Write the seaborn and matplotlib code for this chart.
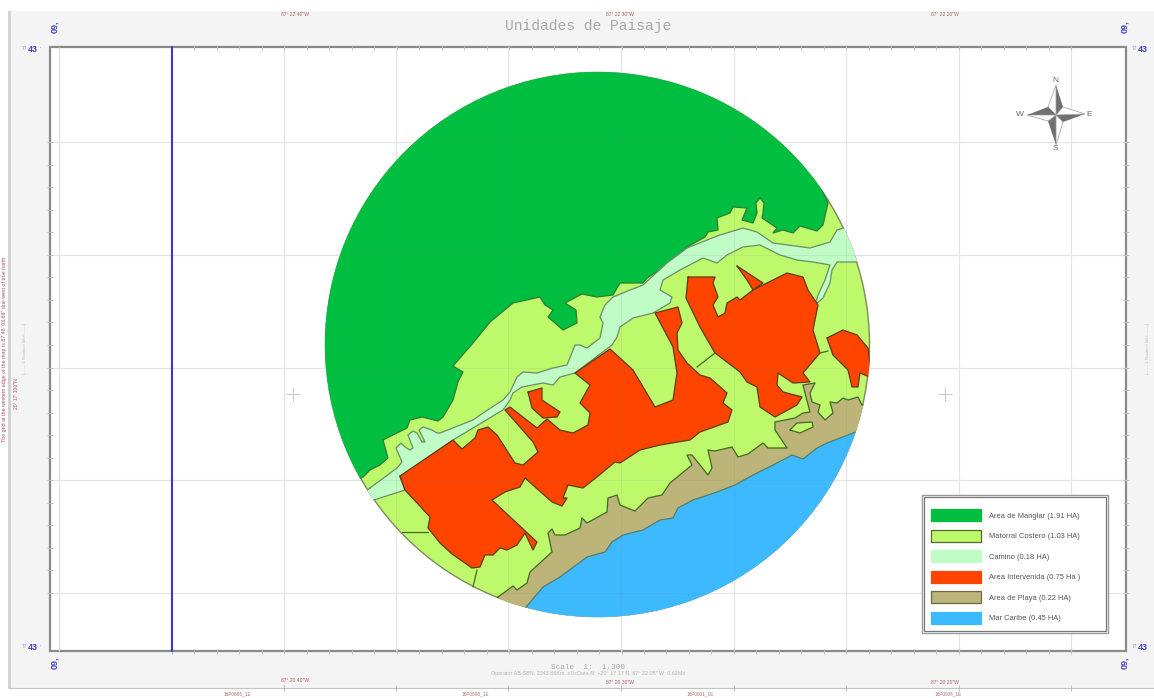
import numpy as np
import pandas as pd
import matplotlib.pyplot as plt
from matplotlib.patches import Circle, Patch, Rectangle
import seaborn as sns

# Map units are the pixel positions of the scanned sheet
grid_x = [284, 396, 508, 621, 734, 846, 959, 1071]
grid_y = [142, 255, 368, 480, 593]
blue_line_x = [172, 172]
blue_line_y = [47, 651]
cross_x = [293, 620, 945]
cross_y = [394, 394, 394]

study_center = (597.5, 344.5)
study_radius = 272

mangrove = [(250, 520), (363, 477), (370, 470), (380, 465), (388, 458), (383, 440), (393, 435), (407, 428),
            (410, 420), (422, 417), (438, 421), (443, 417), (453, 400), (458, 382), (463, 372), (453, 366),
            (473, 343), (490, 322), (513, 303), (540, 297), (545, 305), (553, 310), (548, 317), (563, 330),
            (577, 323), (576, 310), (565, 303), (582, 294), (597, 297), (613, 295), (620, 283), (643, 283),
            (647, 278), (667, 265), (687, 247), (705, 237), (708, 232), (718, 230), (717, 218), (730, 213),
            (733, 207), (747, 208), (742, 220), (753, 223), (757, 213), (756, 203), (760, 198), (764, 203),
            (763, 213), (762, 218), (777, 228), (773, 233), (783, 230), (793, 233), (800, 226), (817, 231),
            (823, 225), (827, 207), (828, 203), (822, 190), (900, 100), (900, 0), (250, 0)]

road = [(370, 488), (397, 468), (402, 462), (396, 448), (401, 443), (405, 447), (410, 450), (413, 448),
        (408, 435), (413, 431), (417, 433), (422, 442), (425, 442), (419, 430), (423, 427), (432, 430),
        (437, 433), (440, 433), (473, 420), (483, 413), (503, 400), (510, 392), (517, 377), (523, 372),
        (537, 373), (553, 368), (567, 365), (575, 345), (580, 345), (587, 348), (600, 338), (603, 323),
        (600, 317), (605, 305), (613, 297), (630, 290), (643, 285), (667, 263), (687, 248), (707, 240),
        (720, 235), (743, 228), (757, 232), (773, 243), (810, 248), (830, 242), (837, 230), (862, 222),
        (870, 262), (858, 262), (837, 262), (832, 270), (830, 283), (823, 298), (815, 305), (818, 295),
        (825, 280), (830, 265), (813, 262), (797, 260), (780, 255), (760, 245), (743, 247), (727, 255),
        (717, 263), (703, 258), (680, 270), (663, 280), (660, 290), (672, 297), (670, 303), (653, 313),
        (633, 318), (620, 327), (617, 337), (612, 345), (575, 373), (560, 377), (553, 385), (543, 383),
        (522, 387), (513, 393), (510, 400), (503, 410), (453, 440), (400, 477), (405, 490), (377, 499),
        (340, 510)]

red_main = [(400, 476), (453, 440), (462, 449), (475, 438), (478, 430), (488, 427), (497, 435), (515, 463),
            (523, 465), (538, 452), (533, 442), (505, 410), (510, 407), (537, 428), (547, 419), (560, 430),
            (573, 433), (588, 425), (590, 413), (580, 403), (590, 385), (575, 373), (610, 349), (620, 358),
            (633, 370), (655, 407), (673, 400), (677, 373), (673, 347), (655, 313), (678, 307), (682, 323),
            (677, 333), (678, 350), (687, 363), (700, 375), (710, 378), (727, 393), (723, 403), (732, 410),
            (728, 422), (700, 432), (690, 440), (660, 445), (640, 450), (620, 463), (615, 462), (597, 477),
            (583, 488), (568, 485), (563, 498), (567, 498), (562, 506), (552, 502), (525, 478), (520, 487),
            (505, 492), (492, 500), (537, 542), (533, 550), (525, 533), (517, 545), (507, 550), (500, 548),
            (493, 555), (485, 555), (480, 567), (472, 568), (452, 554), (440, 543), (428, 528), (430, 517),
            (405, 490)]
red_small = [(528, 392), (542, 388), (542, 400), (560, 412), (557, 417), (543, 418), (532, 408)]
red_center = [(688, 277), (715, 277), (713, 283), (718, 297), (713, 305), (718, 317), (725, 313), (727, 303),
              (737, 297), (740, 300), (753, 290), (787, 273), (803, 277), (808, 290), (818, 305), (813, 330),
              (820, 353), (803, 373), (810, 382), (793, 383), (778, 373), (777, 385), (783, 392), (802, 397),
              (797, 405), (775, 417), (760, 407), (757, 387), (747, 382), (740, 372), (715, 353), (700, 327),
              (686, 298)]
red_sliver = [(737, 266), (763, 283), (753, 290), (747, 280)]
red_east = [(827, 338), (843, 330), (857, 335), (868, 348), (872, 378), (860, 373), (858, 387), (852, 387),
            (848, 370), (833, 355)]

beach = [(498, 597), (513, 586), (517, 590), (527, 583), (530, 572), (552, 552), (548, 533), (552, 529),
         (555, 535), (565, 535), (580, 528), (582, 518), (587, 523), (607, 512), (608, 498), (617, 495),
         (620, 505), (635, 511), (648, 498), (662, 495), (670, 483), (692, 465), (687, 455), (692, 455),
         (708, 475), (712, 468), (708, 450), (715, 451), (732, 447), (738, 457), (748, 454), (763, 443),
         (768, 448), (787, 448), (775, 430), (775, 422), (795, 418), (803, 413), (810, 412), (805, 393),
         (803, 385), (815, 383), (810, 393), (812, 402), (820, 405), (818, 412), (825, 420), (833, 413),
         (830, 402), (837, 403), (843, 398), (848, 400), (858, 397), (862, 405), (885, 405), (885, 440),
         (600, 650), (490, 630)]
beach_island = [(790, 430), (797, 423), (812, 422), (813, 427), (800, 433)]

sea = [(527, 606), (543, 587), (560, 577), (587, 557), (605, 552), (612, 542), (623, 535), (643, 530),
       (660, 520), (673, 518), (678, 508), (693, 500), (717, 492), (735, 485), (753, 475), (777, 463),
       (792, 455), (803, 459), (817, 448), (827, 443), (853, 433), (885, 425), (885, 640), (500, 650)]

# short boundary lines between plots of matorral
parcel_lines = [[(697, 367), (715, 353)], [(820, 353), (828, 351)], [(402, 532), (428, 532)],
                [(477, 570), (473, 587)]]

legend_labels = ['Area de Manglar (1.91 HA)', 'Matorral Costero (1.03 HA)', 'Camino (0.18 HA)',
                 'Area Intervenida (0.75 Ha )', 'Area de Playa (0.22 HA)', 'Mar Caribe (0.45 HA)']
legend_colors = ['#00BE40', '#BDF96B', '#BFFCC6', '#FF4400', '#BDB47A', '#3DB9FF']
legend_edges = ['#00BE40', '#4F6A2A', '#BFFCC6', '#FF4400', '#6E6A45', '#3DB9FF']

top_labels = ['87° 22 40"W', '87° 22 30"W', '87° 22 20"W']
top_label_x = [295, 620, 945]
bottom_labels = ['87° 20 40"W', '87° 20 30"W', '87° 20 20"W']
bottom_label_y = [681, 683, 682]
utm_labels = ['16P0895_1E', '16P0898_1E', '16P0901_1E', '16P0904_1E']
utm_x = [237, 475, 700, 948]

sns.set_style('white')
plt.rcParams['font.family'] = ['Liberation Sans', 'DejaVu Sans']

fig = plt.figure(figsize=(11.54, 6.98), dpi=100)
ax = fig.add_axes([0, 0, 1, 1])
ax.set_xlim(0, 1154)
ax.set_ylim(698, 0)
ax.axis('off')

# sheet background and the map window
ax.add_patch(Rectangle((8, 11), 1146, 677, fc='#F4F4F4', ec='none', zorder=0))
ax.add_patch(Rectangle((8, 11), 3, 677, fc='#D2D2D2', ec='none', zorder=1))
ax.add_patch(Rectangle((50, 47), 1076, 604, fc='white', ec='#8A8A8A', lw=1.6, zorder=1))
ax.vlines(59, 47, 651, color='#DCDCDC', lw=0.8, zorder=2)
ax.hlines(688, 8, 1154, color='#C4C4C4', lw=0.8, zorder=2)

# graticule and small ticks on the frame
ax.vlines(grid_x, 47, 651, color='#E4E4E4', lw=0.9, zorder=2)
ax.hlines(grid_y, 50, 1126, color='#E4E4E4', lw=0.9, zorder=2)
minor_x = np.linspace(172, 1071, 41)
minor_y = np.linspace(142, 593, 21)
ax.vlines(minor_x, 45, 50, color='#BBBBBB', lw=0.6, zorder=2)
ax.vlines(minor_x, 649, 654, color='#BBBBBB', lw=0.6, zorder=2)
ax.hlines(minor_y, 47, 53, color='#BBBBBB', lw=0.6, zorder=2)
ax.hlines(minor_y, 1123, 1129, color='#BBBBBB', lw=0.6, zorder=2)
ax.vlines(grid_x, 685, 691, color='#B5B5B5', lw=0.6, zorder=2)
sns.lineplot(x=blue_line_x, y=blue_line_y, sort=False, estimator=None, color='#3A3AC8', lw=1.5, ax=ax, zorder=3,
             legend=False)
sns.scatterplot(x=cross_x, y=cross_y, marker='+', s=110, color='#C9C9C9', linewidth=0.8, ax=ax, zorder=3,
                legend=False)

# base of the study circle is the matorral class
ax.add_patch(Circle(study_center, study_radius, fc=legend_colors[1], ec='#7F8A5A', lw=1.0, zorder=4))
clip = Circle(study_center, study_radius + 0.6, transform=ax.transData)

regions = [(mangrove, legend_colors[0], '#2E7D32'),
           (road, legend_colors[2], '#6F8C68'),
           (beach, legend_colors[4], '#3E6B1E'),
           (sea, legend_colors[5], '#4F7F70'),
           (beach_island, legend_colors[1], '#3E6B1E'),
           (red_main, legend_colors[3], '#5E3A10'),
           (red_small, legend_colors[3], '#5E3A10'),
           (red_center, legend_colors[3], '#5E3A10'),
           (red_sliver, legend_colors[3], '#5E3A10'),
           (red_east, legend_colors[3], '#5E3A10')]

z = 5
for points, fill_color, edge_color in regions:
    xy = pd.DataFrame(points + points[:1], columns=['x', 'y'])
    for patch in ax.fill(xy['x'], xy['y'], color=fill_color, lw=0, zorder=z):
        patch.set_clip_path(clip)
    before = len(ax.lines)
    sns.lineplot(data=xy, x='x', y='y', sort=False, estimator=None, color=edge_color, lw=0.9, ax=ax, zorder=z,
                 legend=False)
    for line in ax.lines[before:]:
        line.set_clip_path(clip)
    z += 1

for seg in parcel_lines:
    seg_df = pd.DataFrame(seg, columns=['x', 'y'])
    sns.lineplot(data=seg_df, x='x', y='y', sort=False, estimator=None, color='#3E6B1E', lw=0.9, ax=ax, zorder=z,
                 legend=False)

# faint graticule still shows through the classes
ax.vlines(grid_x, 72, 617, color='#808080', lw=0.5, alpha=0.16, zorder=z + 1)
ax.hlines(grid_y, 325, 870, color='#808080', lw=0.5, alpha=0.16, zorder=z + 1)
for coll in ax.collections[-2:]:
    coll.set_clip_path(clip)

# north arrow
rose_x, rose_y = 1056, 115
tips = [(0, -30), (29, -1), (0, 30), (-29, 0)]
inner = [(7, -8), (7, 7), (-8, 6), (-8, -8)]
for i in range(4):
    tip = tips[i]
    ax.fill([rose_x, rose_x + tip[0], rose_x + inner[i][0]], [rose_y, rose_y + tip[1], rose_y + inner[i][1]],
            color='#707070', lw=0, zorder=z + 2)
    other = inner[i - 1]
    ax.fill([rose_x, rose_x + tip[0], rose_x + other[0]], [rose_y, rose_y + tip[1], rose_y + other[1]],
            fc='white', ec='#9A9A9A', lw=0.5, zorder=z + 2)
for letter, lx, ly in [('N', 1055, 80), ('E', 1089, 115), ('S', 1055, 149), ('W', 1020, 115)]:
    ax.text(lx, ly, letter, fontsize=6, color='#666666', ha='center', va='center', zorder=z + 2)

# titles in the sheet margins
ax.text(588, 26, 'Unidades de Paisaje', family='Liberation Mono', fontsize=10.5, color='#A8A8A8', ha='center',
        va='center')
ax.text(588, 667, 'Scale  1:  1,300', family='Liberation Mono', fontsize=5.6, color='#A8A8A8', ha='center',
        va='center')
ax.text(588, 674, 'Operator AB-SBN, 2343.86Km. xTicData-N: +20° 17 17 N, 87° 22 05" W  0.62Mn', fontsize=3.9,
        color='#B5B5B5', ha='center', va='center')

for lab, lx in zip(top_labels, top_label_x):
    ax.text(lx, 15, lab, fontsize=3.6, color='#A86060', ha='center', va='center')
for lab, lx, ly in zip(bottom_labels, top_label_x, bottom_label_y):
    ax.text(lx, ly, lab, fontsize=3.6, color='#A86060', ha='center', va='center')
for lab, lx in zip(utm_labels, utm_x):
    ax.text(lx, 694, lab, fontsize=3.4, color='#B07070', ha='center', va='center')

for lx, ly in [(55, 27), (1125, 27), (55, 663), (1125, 663)]:
    ax.text(lx, ly, '09,', rotation=90, fontsize=6.5, fontweight='bold', color='#4444CC', ha='center', va='center')
for lx, ly in [(33, 49), (1143, 49), (33, 647), (1143, 647)]:
    ax.text(lx, ly, '43', fontsize=6.5, fontweight='bold', color='#4444CC', ha='center', va='center')
    ax.text(lx + 8, ly, "''", fontsize=3.5, color='#8888CC', ha='center', va='center')
    ax.text(lx - 9, ly, '77', fontsize=3.5, color='#8888CC', ha='center', va='center')

ax.text(5, 349, 'The grid at the western edge of the map is 87 48\' 03.69" due west of true north', rotation=90,
        fontsize=3.75, color='#A85060', ha='center', va='center')
ax.text(17, 394, '20° 17\' 100"N', rotation=90, fontsize=3.6, color='#A85060', ha='center', va='center')
ax.text(25, 349, '|—— 1 Nautical Mile ——|', rotation=90, fontsize=3.2, color='#BBBBBB', ha='center', va='center')
ax.text(1148, 349, '|—— 1 Nautical Mile ——|', rotation=90, fontsize=3.2, color='#BBBBBB', ha='center', va='center')

# legend from the class lists, the double frame is drawn behind it
ax.add_patch(Rectangle((921.5, 495), 186.5, 138, fc='white', ec='#9A9A9A', lw=1.0, zorder=z + 2))
ax.add_patch(Rectangle((924, 497), 181.5, 133.5, fc='white', ec='#777777', lw=0.9, zorder=z + 2))
handles = [Patch(facecolor=c, edgecolor=e, linewidth=0.9) for c, e in zip(legend_colors, legend_edges)]
leg = ax.legend(handles, legend_labels, loc='upper left', bbox_to_anchor=(923 / 1154, 1 - 501 / 698),
                fontsize=5.4, frameon=False, handlelength=6.6, handleheight=2.1, handletextpad=1.1,
                labelspacing=1.12, borderpad=1.1, borderaxespad=0)
leg.set_zorder(z + 3)
for t in leg.get_texts():
    t.set_color('#555555')

fig.savefig('out.png', dpi=100)
